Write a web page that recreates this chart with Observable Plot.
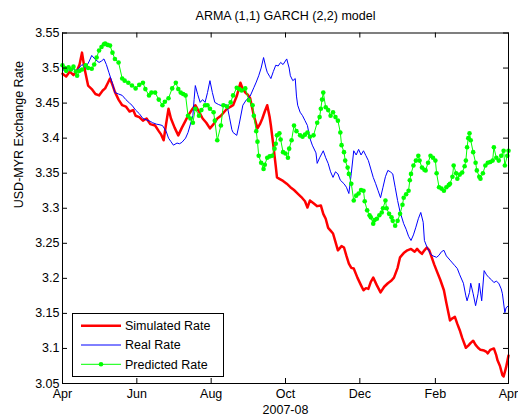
<!DOCTYPE html>
<html><head><meta charset="utf-8">
<script src="https://cdn.jsdelivr.net/npm/d3@7"></script>
<script src="https://cdn.jsdelivr.net/npm/@observablehq/plot@0.6"></script>
<style>body{margin:0;background:#fff;}#chart{width:518px;height:416px;}</style>
</head><body><div id="chart"></div>
<script>
const title = "ARMA (1,1) GARCH (2,2) model";
const yLabel = "USD-MYR Exchange Rate";
const xLabel = "2007-08";
const seriesNames = ["Simulated Rate", "Real Rate", "Predicted Rate"];
const seriesColors = ["#ff0000", "#0000ff", "#00ff00"];
const startDate = "2007-04-01";
const xTickDates = ["2007-04-01","2007-06-01","2007-08-01","2007-10-01","2007-12-01","2008-02-01","2008-04-01"];
const yTicks = [3.05,3.1,3.15,3.2,3.25,3.3,3.35,3.4,3.45,3.5,3.55];

// [day offset from 2007-04-01, rate]
const simulated = [[0,3.492],[3,3.488],[6,3.495],[9,3.490],[12,3.497],[14,3.505],[16,3.522],[18,3.500],[21,3.475],[24,3.470],[27,3.463],[30,3.461],[33,3.468],[35,3.471],[37,3.478],[39,3.485],[41,3.476],[43,3.466],[46,3.455],[49,3.447],[52,3.445],[55,3.438],[58,3.440],[60,3.432],[63,3.430],[66,3.425],[69,3.428],[72,3.420],[76,3.418],[79,3.410],[81,3.405],[83,3.397],[85,3.420],[87,3.442],[89,3.428],[92,3.415],[95,3.404],[98,3.415],[101,3.425],[103,3.432],[106,3.440],[109,3.447],[112,3.438],[115,3.428],[118,3.422],[121,3.414],[124,3.420],[127,3.428],[130,3.432],[133,3.438],[135,3.442],[138,3.445],[140,3.447],[143,3.460],[146,3.479],[148,3.470],[150,3.465],[152,3.462],[154,3.457],[157,3.432],[160,3.414],[162,3.420],[164,3.428],[166,3.438],[168,3.447],[170,3.430],[171,3.418],[173,3.390],[175,3.360],[176,3.344],[178,3.342],[181,3.339],[184,3.335],[187,3.330],[190,3.326],[193,3.321],[196,3.316],[199,3.310],[201,3.301],[203,3.311],[206,3.307],[209,3.303],[212,3.304],[214,3.292],[216,3.285],[218,3.272],[220,3.268],[222,3.264],[224,3.252],[226,3.240],[229,3.246],[231,3.244],[233,3.232],[235,3.221],[237,3.215],[239,3.214],[242,3.201],[245,3.190],[247,3.183],[249,3.186],[251,3.185],[253,3.195],[255,3.201],[258,3.190],[261,3.180],[264,3.188],[267,3.193],[270,3.197],[272,3.201],[275,3.215],[277,3.230],[280,3.236],[283,3.240],[286,3.242],[289,3.238],[291,3.242],[293,3.238],[295,3.235],[297,3.240],[299,3.244],[301,3.240],[303,3.230],[305,3.220],[307,3.211],[310,3.198],[313,3.183],[315,3.165],[318,3.140],[320,3.143],[322,3.145],[324,3.135],[326,3.126],[328,3.115],[331,3.101],[333,3.104],[335,3.108],[337,3.111],[339,3.105],[341,3.101],[343,3.098],[346,3.097],[348,3.095],[349,3.093],[351,3.098],[354,3.100],[356,3.090],[357,3.083],[359,3.075],[361,3.062],[362,3.060],[364,3.073],[366,3.090]];

const real = [[0,3.495],[2,3.501],[5,3.497],[8,3.500],[11,3.496],[13,3.499],[16,3.505],[19,3.500],[22,3.510],[24,3.518],[27,3.512],[30,3.508],[32,3.510],[34,3.513],[36,3.505],[38,3.494],[41,3.478],[43,3.465],[46,3.463],[49,3.461],[52,3.455],[55,3.450],[57,3.447],[60,3.440],[63,3.435],[66,3.428],[69,3.426],[72,3.424],[74,3.422],[77,3.420],[80,3.419],[82,3.418],[85,3.410],[87,3.400],[89,3.395],[91,3.390],[94,3.393],[96,3.392],[98,3.394],[101,3.400],[103,3.408],[105,3.420],[107,3.432],[108,3.455],[109,3.475],[111,3.462],[113,3.451],[115,3.455],[117,3.451],[119,3.465],[121,3.482],[123,3.465],[125,3.451],[128,3.448],[131,3.446],[133,3.448],[135,3.447],[137,3.430],[139,3.412],[140,3.408],[143,3.404],[145,3.420],[148,3.447],[151,3.455],[154,3.460],[157,3.472],[159,3.480],[161,3.489],[163,3.500],[165,3.515],[167,3.500],[168,3.494],[170,3.488],[171,3.485],[173,3.495],[175,3.504],[177,3.503],[179,3.508],[181,3.505],[184,3.513],[186,3.500],[187,3.489],[189,3.482],[191,3.485],[192,3.460],[193,3.447],[195,3.437],[197,3.432],[199,3.425],[201,3.418],[203,3.400],[205,3.390],[208,3.379],[209,3.364],[211,3.372],[214,3.382],[216,3.372],[218,3.364],[220,3.352],[222,3.344],[224,3.352],[226,3.349],[228,3.340],[231,3.335],[233,3.330],[235,3.321],[237,3.350],[239,3.382],[241,3.376],[243,3.384],[245,3.376],[247,3.382],[249,3.375],[251,3.368],[253,3.356],[255,3.344],[257,3.335],[259,3.325],[261,3.315],[263,3.330],[265,3.345],[267,3.354],[269,3.352],[271,3.349],[273,3.330],[275,3.311],[277,3.295],[280,3.278],[282,3.270],[284,3.260],[286,3.254],[288,3.262],[290,3.273],[292,3.285],[294,3.294],[296,3.280],[297,3.254],[299,3.245],[302,3.235],[304,3.232],[307,3.230],[309,3.233],[311,3.238],[313,3.240],[315,3.232],[318,3.226],[320,3.222],[322,3.218],[324,3.214],[326,3.205],[329,3.193],[331,3.175],[332,3.168],[334,3.180],[335,3.193],[337,3.178],[339,3.161],[341,3.178],[342,3.193],[344,3.168],[346,3.211],[348,3.205],[350,3.201],[352,3.198],[354,3.194],[356,3.196],[358,3.193],[360,3.185],[361,3.178],[363,3.151],[364,3.158],[366,3.161]];

const predicted = [[0,3.504],[2,3.500],[3,3.496],[5,3.501],[7,3.498],[9,3.502],[11,3.495],[12,3.489],[14,3.496],[16,3.498],[19,3.504],[21,3.500],[24,3.499],[26,3.505],[28,3.515],[30,3.525],[32,3.530],[34,3.534],[35,3.535],[37,3.533],[39,3.532],[41,3.522],[43,3.513],[46,3.508],[49,3.485],[51,3.482],[54,3.479],[57,3.475],[60,3.471],[63,3.476],[66,3.479],[68,3.470],[71,3.461],[73,3.465],[76,3.465],[79,3.455],[82,3.447],[84,3.452],[87,3.457],[90,3.471],[93,3.479],[95,3.470],[97,3.465],[99,3.463],[101,3.461],[103,3.432],[105,3.428],[107,3.422],[109,3.442],[112,3.432],[114,3.440],[117,3.447],[119,3.447],[121,3.442],[124,3.437],[125,3.425],[127,3.397],[130,3.418],[132,3.447],[135,3.445],[138,3.451],[140,3.461],[143,3.472],[145,3.470],[147,3.468],[150,3.471],[153,3.454],[156,3.447],[157,3.432],[159,3.410],[160,3.395],[161,3.375],[163,3.365],[165,3.356],[166,3.362],[168,3.372],[170,3.374],[172,3.375],[174,3.385],[175,3.392],[176,3.404],[178,3.407],[179,3.398],[181,3.380],[183,3.378],[185,3.372],[186,3.385],[188,3.397],[190,3.418],[192,3.410],[195,3.404],[197,3.402],[199,3.405],[201,3.408],[203,3.402],[206,3.404],[209,3.422],[211,3.430],[212,3.442],[213,3.455],[214,3.465],[216,3.444],[218,3.440],[220,3.432],[222,3.437],[224,3.430],[226,3.425],[228,3.408],[229,3.390],[231,3.380],[232,3.368],[234,3.358],[235,3.349],[237,3.335],[239,3.311],[241,3.318],[243,3.321],[245,3.326],[247,3.325],[248,3.310],[250,3.297],[252,3.290],[253,3.287],[255,3.278],[256,3.283],[258,3.285],[260,3.290],[262,3.294],[263,3.300],[265,3.311],[266,3.300],[268,3.292],[270,3.287],[271,3.282],[273,3.275],[275,3.282],[277,3.292],[279,3.305],[280,3.315],[282,3.320],[284,3.325],[285,3.340],[286,3.349],[288,3.361],[290,3.368],[292,3.375],[293,3.368],[295,3.358],[297,3.355],[298,3.354],[300,3.365],[302,3.375],[304,3.372],[306,3.368],[307,3.350],[309,3.330],[311,3.328],[313,3.325],[315,3.330],[317,3.333],[318,3.335],[320,3.345],[321,3.361],[323,3.350],[324,3.342],[326,3.348],[328,3.351],[330,3.360],[331,3.368],[332,3.387],[333,3.400],[334,3.407],[335,3.397],[337,3.380],[339,3.365],[340,3.354],[342,3.345],[343,3.342],[345,3.350],[347,3.361],[349,3.365],[351,3.366],[353,3.368],[354,3.387],[356,3.372],[358,3.368],[360,3.375],[362,3.382],[363,3.361],[365,3.375],[366,3.382]];

const start = new Date(startDate + "T00:00:00Z");
const toRows = (pairs) => pairs.map(([d, v]) => ({date: d3.utcDay.offset(start, d), rate: v}));
const simRows = toRows(simulated), realRows = toRows(real), predRows = toRows(predicted);
const xTicks = xTickDates.map(s => new Date(s + "T00:00:00Z"));

const W = 518, H = 416, mL = 62, mR = 10, mT = 32.5, mB = 33;
const plotW = W - mL - mR, plotH = H - mT - mB, tk = 5;
const font = "'Liberation Sans', Arial, Helvetica, sans-serif";

const chart = Plot.plot({
  width: W, height: H,
  marginLeft: mL, marginRight: mR, marginTop: mT, marginBottom: mB,
  style: {fontFamily: font, fontSize: "12.5px", background: "white", color: "black", overflow: "visible"},
  x: {type: "utc", domain: [xTicks[0], xTicks[xTicks.length - 1]]},
  y: {domain: [3.05, 3.55]},
  marks: [
    Plot.line(simRows, {x: "date", y: "rate", stroke: seriesColors[0], strokeWidth: 2.5, strokeLinejoin: "round"}),
    Plot.line(realRows, {x: "date", y: "rate", stroke: seriesColors[1], strokeWidth: 1}),
    Plot.line(predRows, {x: "date", y: "rate", stroke: seriesColors[2], strokeWidth: 1}),
    Plot.dot(predRows, {x: "date", y: "rate", r: 2.3, fill: seriesColors[2], stroke: "none"}),
    Plot.frame({stroke: "black", strokeWidth: 1}),
    Plot.tickX(xTicks, {x: d => d, insetTop: plotH - tk, stroke: "black"}),
    Plot.tickX(xTicks, {x: d => d, insetBottom: plotH - tk, stroke: "black"}),
    Plot.tickY(yTicks, {y: d => d, insetRight: plotW - tk, stroke: "black"}),
    Plot.tickY(yTicks, {y: d => d, insetLeft: plotW - tk, stroke: "black"}),
    Plot.axisX(xTicks, {anchor: "bottom", tickSize: 0, tickPadding: 6, tickFormat: d3.utcFormat("%b"), label: null, fontSize: 12.5}),
    Plot.axisY(yTicks, {anchor: "left", tickSize: 0, tickPadding: 3, tickFormat: d => String(+d.toFixed(2)), label: null, fontSize: 12.5}),
    Plot.text([title], {text: d => d, frameAnchor: "top", dy: -17.5, lineAnchor: "middle", fontSize: 12.5}),
    Plot.text([xLabel], {text: d => d, frameAnchor: "bottom", dy: 26, lineAnchor: "middle", fontSize: 12.5}),
    Plot.text([yLabel], {text: d => d, frameAnchor: "left", dx: -44, rotate: -90, lineAnchor: "middle", fontSize: 12.5})
  ]
});
document.getElementById("chart").appendChild(chart);

// Legend box inside the plot area (bottom-left)
const svg = d3.select(chart);
const lg = svg.append("g").attr("font-family", font).attr("font-size", 12.5).attr("text-anchor", "start");
const box = {x: 72, y: 313, w: 151, h: 63};
lg.append("rect").attr("x", box.x + 0.5).attr("y", box.y + 0.5).attr("width", box.w).attr("height", box.h)
  .attr("fill", "white").attr("stroke", "black").attr("stroke-width", 1);
const rowY = [325.7, 345, 364.3];
seriesNames.forEach((name, i) => {
  const y = rowY[i];
  lg.append("line").attr("x1", 81).attr("x2", 121).attr("y1", y).attr("y2", y)
    .attr("stroke", seriesColors[i]).attr("stroke-width", i === 0 ? 2.5 : 1);
  if (i === 2) lg.append("circle").attr("cx", 101).attr("cy", y).attr("r", 2.3).attr("fill", seriesColors[i]);
  lg.append("text").attr("x", 125).attr("y", y).attr("dy", "0.35em").attr("text-anchor", "start").attr("fill", "black").text(name);
});
</script>
</body></html>
